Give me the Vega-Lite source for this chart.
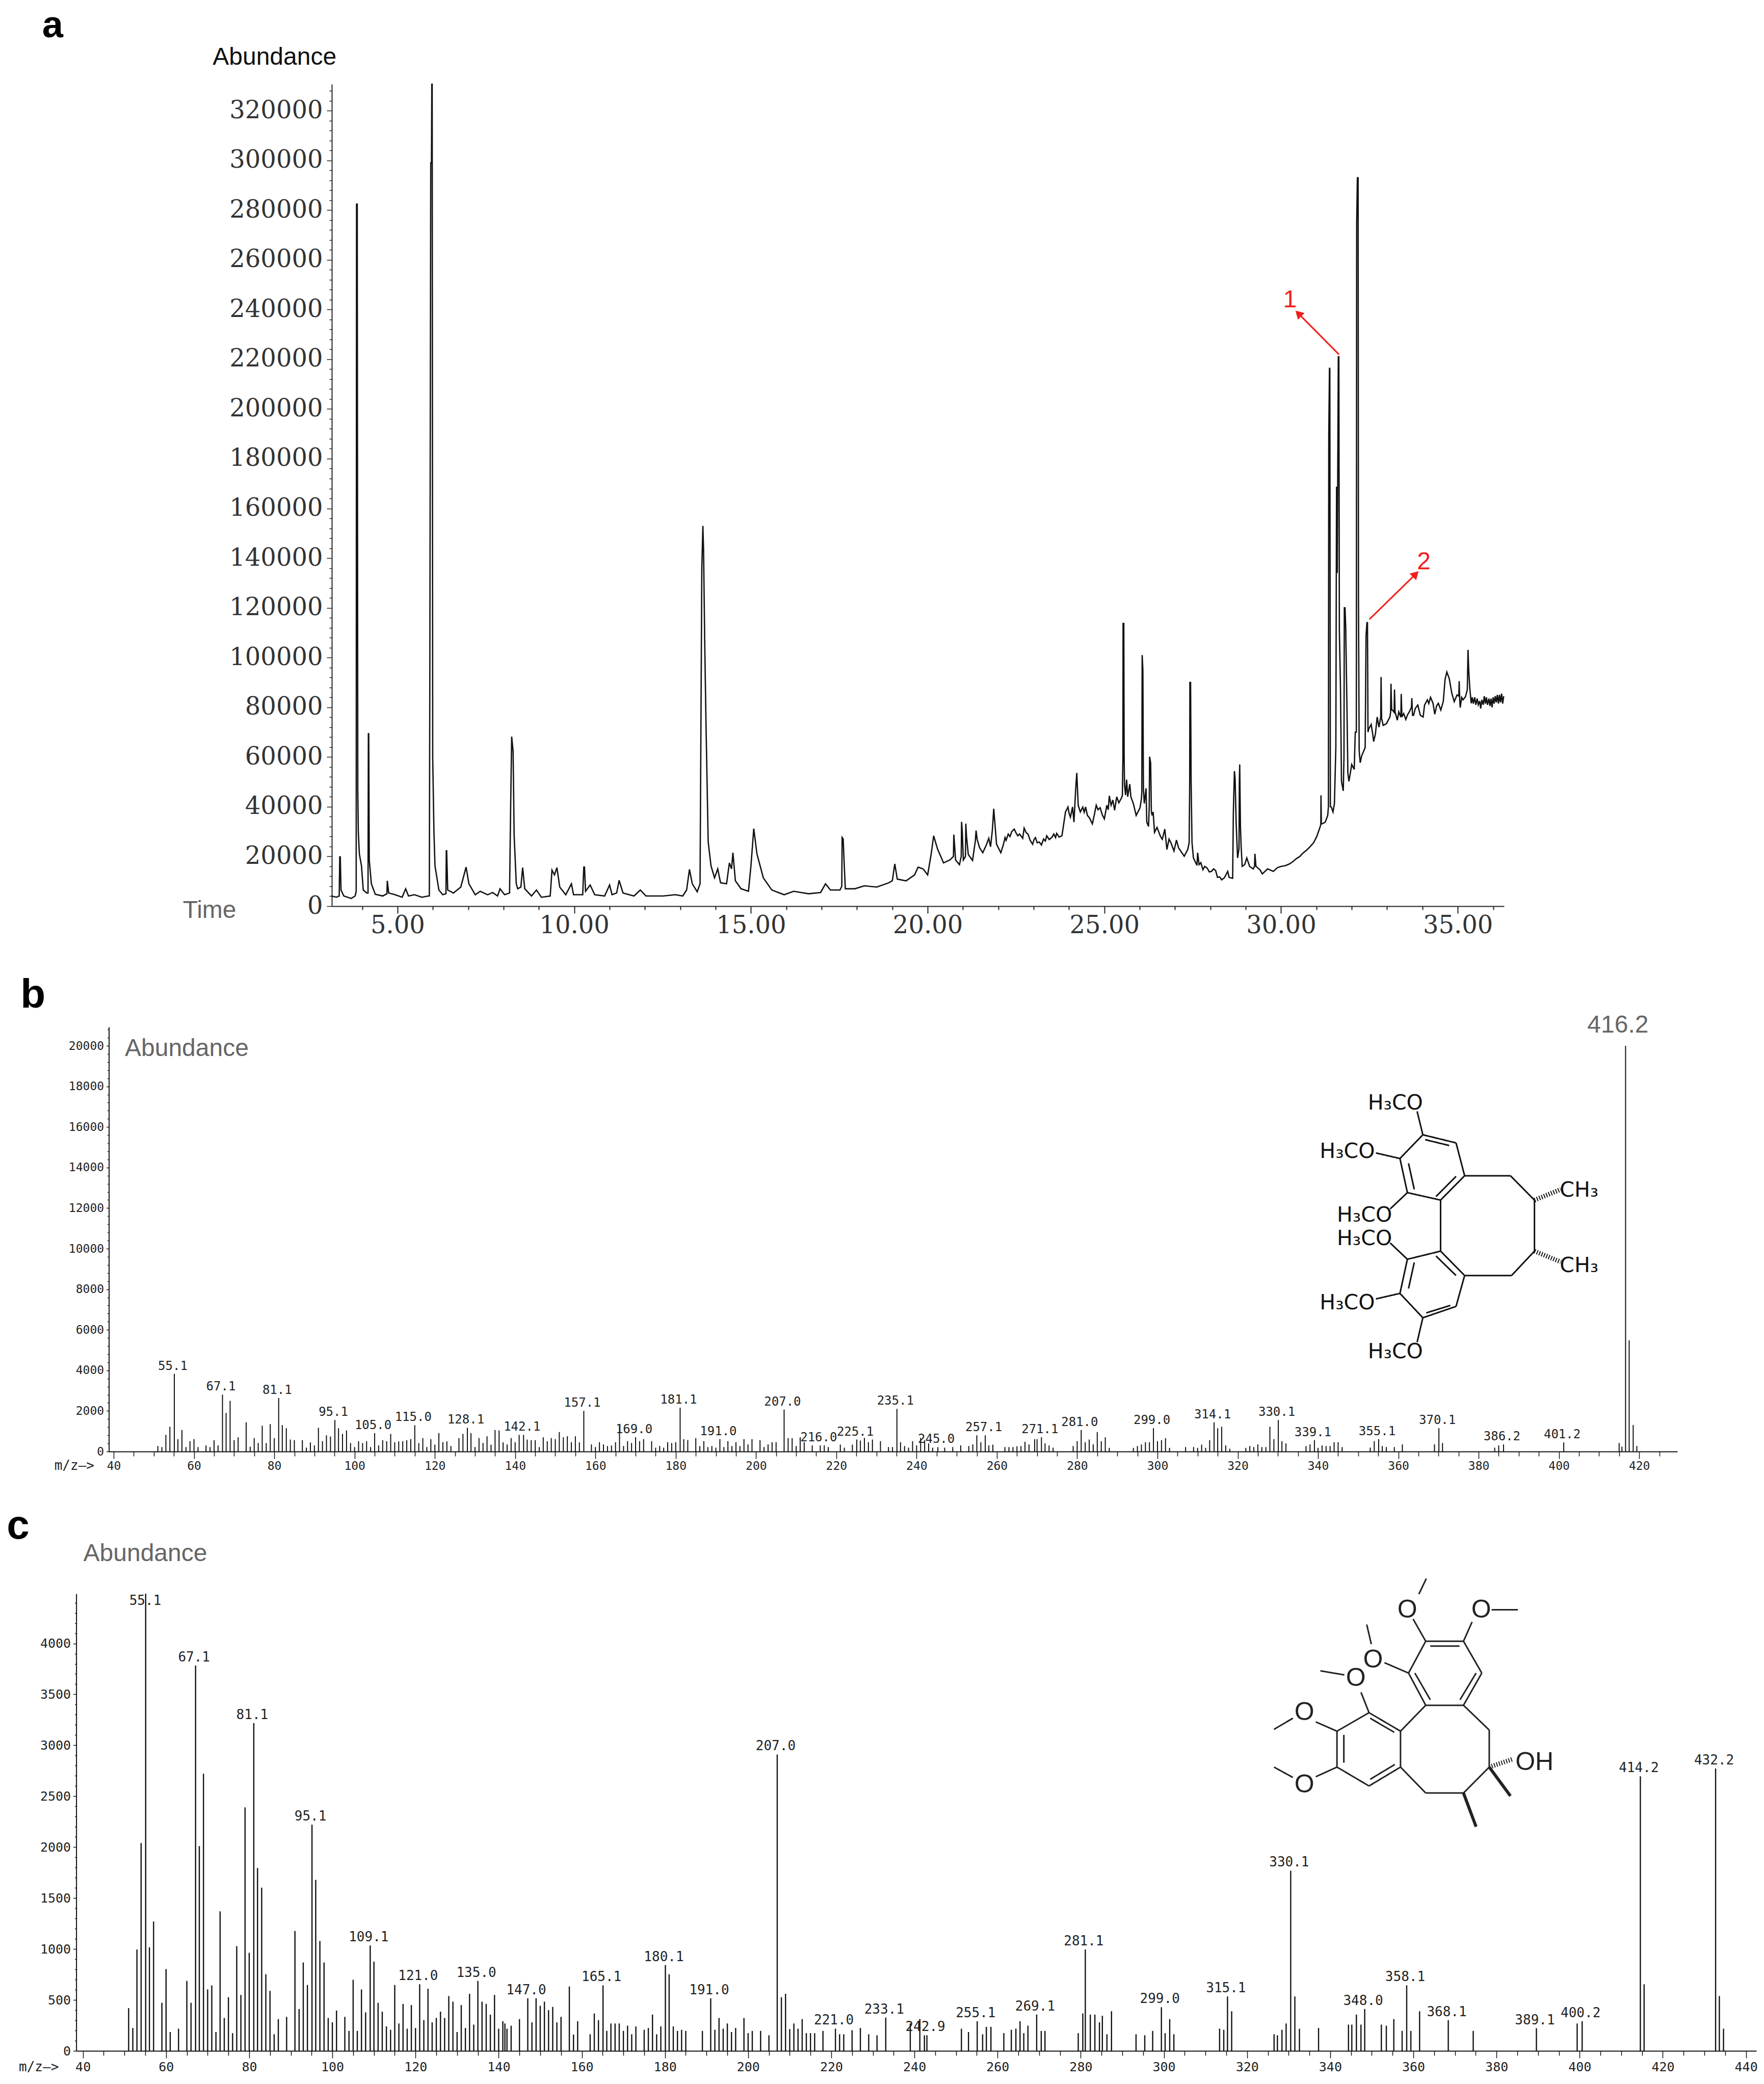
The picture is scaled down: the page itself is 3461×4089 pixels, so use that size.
{"$schema":"https://vega.github.io/schema/vega-lite/v6.json","background":"white","padding":0,"spacing":0,"bounds":"flush","config":{"view":{"stroke":null},"axis":{"grid":false,"labelLimit":500}},
"vconcat":[
{"width":3461,"height":1850,"resolve":{"scale":{"x":"independent","y":"independent"}},"layer":[
{"data":{"name":"a_trace"},"mark":{"type":"line","color":"#111","strokeWidth":2.6,"clip":false},"encoding":{
"x":{"field":"t","type":"quantitative","scale":{"domain":[3.14,36.31],"range":[651,2951],"nice":false,"zero":false},"axis":{"orient":"bottom","title":null,"offset":-72,"values":[4,5,6,7,8,9,10,11,12,13,14,15,16,17,18,19,20,21,22,23,24,25,26,27,28,29,30,31,32,33,34,35,36],"labelExpr":"datum.value % 5 === 0 ? format(datum.value,'.2f') : ''","tickSize":{"condition":{"test":"datum.value % 5 === 0","value":14},"value":7},"labelFont":"DejaVu Serif","labelFontSize":48,"labelColor":"#333","labelPadding":0,"domainColor":"#222","domainWidth":2,"tickColor":"#222","tickWidth":2,"labelOverlap":false,"labelBound":false,"labelFlush":false,"labelLimit":500}},
"y":{"field":"abundance","type":"quantitative","scale":{"domain":[0,330670],"range":[1778,165],"nice":false,"zero":false},"axis":{"orient":"left","title":null,"offset":-651,"values":[0,4000,8000,12000,16000,20000,24000,28000,32000,36000,40000,44000,48000,52000,56000,60000,64000,68000,72000,76000,80000,84000,88000,92000,96000,100000,104000,108000,112000,116000,120000,124000,128000,132000,136000,140000,144000,148000,152000,156000,160000,164000,168000,172000,176000,180000,184000,188000,192000,196000,200000,204000,208000,212000,216000,220000,224000,228000,232000,236000,240000,244000,248000,252000,256000,260000,264000,268000,272000,276000,280000,284000,288000,292000,296000,300000,304000,308000,312000,316000,320000,324000,328000],"labelExpr":"datum.value % 20000 === 0 ? datum.value : ''","tickSize":{"condition":{"test":"datum.value % 20000 === 0","value":10},"value":5},"labelFont":"DejaVu Serif","labelFontSize":48,"labelColor":"#333","labelPadding":8,"domainColor":"#222","domainWidth":2,"tickColor":"#222","tickWidth":1.5,"labelOverlap":false,"labelBound":false,"labelLimit":500}}}},
{"data":{"name":"a_text"},"mark":{"type":"text","font":"Liberation Sans","fontSize":48,"baseline":"middle"},"encoding":{
"x":{"field":"t","type":"quantitative","scale":{"domain":[3.14,36.31],"range":[651,2951],"nice":false,"zero":false},"axis":null},
"y":{"field":"abundance","type":"quantitative","scale":{"domain":[0,330670],"range":[1778,165],"nice":false,"zero":false},"axis":null},
"text":{"field":"text"},
"color":{"field":"kind","type":"nominal","scale":{"domain":["title","time","marker"],"range":["#111111","#666666","#f0201c"]},"legend":null}}},
{"data":{"name":"a_letter"},"mark":{"type":"text","font":"Liberation Sans","fontWeight":"bold","fontSize":74,"baseline":"middle","color":"#000"},"encoding":{
"x":{"field":"t","type":"quantitative","scale":{"domain":[3.14,36.31],"range":[651,2951],"nice":false,"zero":false},"axis":null},
"y":{"field":"abundance","type":"quantitative","scale":{"domain":[0,330670],"range":[1778,165],"nice":false,"zero":false},"axis":null},
"text":{"field":"text"}}},
{"data":{"name":"a_arrows"},"mark":{"type":"rule","color":"#f0201c","strokeWidth":3},"encoding":{
"x":{"field":"t","type":"quantitative","scale":{"domain":[3.14,36.31],"range":[651,2951],"nice":false,"zero":false},"axis":null},
"x2":{"field":"t2"},
"y":{"field":"abundance","type":"quantitative","scale":{"domain":[0,330670],"range":[1778,165],"nice":false,"zero":false},"axis":null},
"y2":{"field":"abundance2"}}},
{"data":{"name":"a_arrows"},"mark":{"type":"point","shape":"triangle-up","filled":true,"color":"#f0201c","size":340,"opacity":1},"encoding":{
"x":{"field":"t2","type":"quantitative","scale":{"domain":[3.14,36.31],"range":[651,2951],"nice":false,"zero":false},"axis":null},
"y":{"field":"abundance2","type":"quantitative","scale":{"domain":[0,330670],"range":[1778,165],"nice":false,"zero":false},"axis":null},
"angle":{"field":"heading","type":"quantitative","scale":null}}}
]},
{"width":3461,"height":1100,"resolve":{"scale":{"x":"independent","y":"independent"}},"layer":[
{"data":{"name":"b_stems"},"mark":{"type":"rule","color":"#111","strokeWidth":2},"encoding":{
"x":{"field":"mz","type":"quantitative","scale":{"domain":[38.8,429.5],"range":[213.6,3291],"nice":false,"zero":false},"axis":{"orient":"bottom","title":null,"offset":-102,"values":[40,45,50,55,60,65,70,75,80,85,90,95,100,105,110,115,120,125,130,135,140,145,150,155,160,165,170,175,180,185,190,195,200,205,210,215,220,225,230,235,240,245,250,255,260,265,270,275,280,285,290,295,300,305,310,315,320,325,330,335,340,345,350,355,360,365,370,375,380,385,390,395,400,405,410,415,420,425],"labelExpr":"datum.value % 20 === 0 ? datum.value : ''","tickSize":{"condition":{"test":"datum.value % 20 === 0","value":14},"value":9},"labelFont":"DejaVu Sans Mono","labelFontSize":23,"labelColor":"#222","labelPadding":3,"domainColor":"#111","domainWidth":2,"tickColor":"#111","tickWidth":1.5,"labelOverlap":false,"labelBound":false,"labelFlush":false}},
"y":{"field":"abundance","type":"quantitative","scale":{"domain":[0,20930],"range":[998,165],"nice":false,"zero":false},"axis":{"orient":"left","title":null,"offset":-213.6,"values":[0,400,800,1200,1600,2000,2400,2800,3200,3600,4000,4400,4800,5200,5600,6000,6400,6800,7200,7600,8000,8400,8800,9200,9600,10000,10400,10800,11200,11600,12000,12400,12800,13200,13600,14000,14400,14800,15200,15600,16000,16400,16800,17200,17600,18000,18400,18800,19200,19600,20000,20400,20800],"labelExpr":"datum.value % 2000 === 0 ? datum.value : ''","tickSize":{"condition":{"test":"datum.value % 2000 === 0","value":5},"value":3},"labelFont":"DejaVu Sans Mono","labelFontSize":23,"labelColor":"#222","labelPadding":5,"domainColor":"#111","domainWidth":2,"tickColor":"#111","tickWidth":1.5,"labelOverlap":false,"labelBound":false}},
"y2":{"datum":0}}},
{"data":{"name":"b_stems"},"transform":[{"filter":"datum.label"}],"mark":{"type":"text","font":"DejaVu Sans Mono","fontSize":24,"baseline":"bottom","dy":-3,"dx":-3,"color":"#222"},"encoding":{
"x":{"field":"mz","type":"quantitative","scale":{"domain":[38.8,429.5],"range":[213.6,3291],"nice":false,"zero":false},"axis":null},
"y":{"field":"abundance","type":"quantitative","scale":{"domain":[0,20930],"range":[998,165],"nice":false,"zero":false},"axis":null},
"text":{"field":"label"}}},
{"data":{"name":"b_text"},"mark":{"type":"text","font":"Liberation Sans","fontSize":48,"baseline":"middle","color":"#666"},"encoding":{
"x":{"field":"mz","type":"quantitative","scale":{"domain":[38.8,429.5],"range":[213.6,3291],"nice":false,"zero":false},"axis":null},
"y":{"field":"abundance","type":"quantitative","scale":{"domain":[0,20930],"range":[998,165],"nice":false,"zero":false},"axis":null},
"text":{"field":"text"}}},
{"data":{"values":[{"mz":30.2,"abundance":-700,"text":"m/z—>"}]},"mark":{"type":"text","font":"DejaVu Sans Mono","fontSize":26,"baseline":"middle","color":"#222"},"encoding":{
"x":{"field":"mz","type":"quantitative","scale":{"domain":[38.8,429.5],"range":[213.6,3291],"nice":false,"zero":false},"axis":null},
"y":{"field":"abundance","type":"quantitative","scale":{"domain":[0,20930],"range":[998,165],"nice":false,"zero":false},"axis":null},
"text":{"field":"text"}}},
{"data":{"values":[{"mz":19.9,"abundance":22500,"text":"b"}]},"mark":{"type":"text","font":"Liberation Sans","fontWeight":"bold","fontSize":80,"baseline":"middle","color":"#000"},"encoding":{
"x":{"field":"mz","type":"quantitative","scale":{"domain":[38.8,429.5],"range":[213.6,3291],"nice":false,"zero":false},"axis":null},
"y":{"field":"abundance","type":"quantitative","scale":{"domain":[0,20930],"range":[998,165],"nice":false,"zero":false},"axis":null},
"text":{"field":"text"}}},
{"data":{"name":"b_bonds"},"mark":{"type":"rule","color":"#111"},"encoding":{
"x":{"field":"sx","type":"quantitative","scale":{"domain":[0,1568],"range":[1700,3461],"nice":false,"zero":false},"axis":null},"x2":{"field":"sx2"},
"y":{"field":"sy","type":"quantitative","scale":{"domain":[0,1568],"range":[50,1050],"nice":false,"zero":false},"axis":null},"y2":{"field":"sy2"},
"strokeWidth":{"field":"kind","type":"nominal","scale":{"domain":["bond","wedge","hash"],"range":[3,9,5]},"legend":null},
"strokeDash":{"field":"kind","type":"nominal","scale":{"domain":["bond","wedge","hash"],"range":[[1,0],[1,0],[2,3]]},"legend":null}}},
{"data":{"name":"b_atoms"},"mark":{"type":"text","font":"DejaVu Sans","fontSize":41,"baseline":"middle","color":"#111"},"encoding":{
"x":{"field":"sx","type":"quantitative","scale":{"domain":[0,1568],"range":[1700,3461],"nice":false,"zero":false},"axis":null},
"y":{"field":"sy","type":"quantitative","scale":{"domain":[0,1568],"range":[50,1050],"nice":false,"zero":false},"axis":null},
"text":{"field":"text"}}}
]},
{"width":3461,"height":1139,"resolve":{"scale":{"x":"independent","y":"independent"}},"layer":[
{"data":{"name":"c_stems"},"mark":{"type":"rule","color":"#111","strokeWidth":2.4},"encoding":{
"x":{"field":"mz","type":"quantitative","scale":{"domain":[38.4,442.5],"range":[149.6,3446],"nice":false,"zero":false},"axis":{"orient":"bottom","title":null,"offset":-65,"values":[40,45,50,55,60,65,70,75,80,85,90,95,100,105,110,115,120,125,130,135,140,145,150,155,160,165,170,175,180,185,190,195,200,205,210,215,220,225,230,235,240,245,250,255,260,265,270,275,280,285,290,295,300,305,310,315,320,325,330,335,340,345,350,355,360,365,370,375,380,385,390,395,400,405,410,415,420,425,430,435,440],"labelExpr":"datum.value % 20 === 0 ? datum.value : ''","tickSize":{"condition":{"test":"datum.value % 20 === 0","value":14},"value":9},"labelFont":"DejaVu Sans Mono","labelFontSize":25,"labelColor":"#222","labelPadding":5,"domainColor":"#111","domainWidth":2,"tickColor":"#111","tickWidth":1.5,"labelOverlap":false,"labelBound":false,"labelFlush":false}},
"y":{"field":"abundance","type":"quantitative","scale":{"domain":[0,4488],"range":[1074,177],"nice":false,"zero":false},"axis":{"orient":"left","title":null,"offset":-149.6,"values":[0,100,200,300,400,500,600,700,800,900,1000,1100,1200,1300,1400,1500,1600,1700,1800,1900,2000,2100,2200,2300,2400,2500,2600,2700,2800,2900,3000,3100,3200,3300,3400,3500,3600,3700,3800,3900,4000,4100,4200,4300,4400],"labelExpr":"datum.value % 500 === 0 ? datum.value : ''","tickSize":{"condition":{"test":"datum.value % 500 === 0","value":6},"value":3},"labelFont":"DejaVu Sans Mono","labelFontSize":25,"labelColor":"#222","labelPadding":5,"domainColor":"#111","domainWidth":2,"tickColor":"#111","tickWidth":1.5,"labelOverlap":false,"labelBound":false}},
"y2":{"datum":0}}},
{"data":{"name":"c_stems"},"transform":[{"filter":"datum.label"}],"mark":{"type":"text","font":"DejaVu Sans Mono","fontSize":26,"baseline":"bottom","dy":-3,"dx":-3,"color":"#222"},"encoding":{
"x":{"field":"mz","type":"quantitative","scale":{"domain":[38.4,442.5],"range":[149.6,3446],"nice":false,"zero":false},"axis":null},
"y":{"field":"abundance","type":"quantitative","scale":{"domain":[0,4488],"range":[1074,177],"nice":false,"zero":false},"axis":null},
"text":{"field":"label"}}},
{"data":{"values":[{"mz":55,"abundance":4417,"text":"55.1"}]},"mark":{"type":"text","font":"DejaVu Sans Mono","fontSize":26,"baseline":"middle","color":"#222"},"encoding":{
"x":{"field":"mz","type":"quantitative","scale":{"domain":[38.4,442.5],"range":[149.6,3446],"nice":false,"zero":false},"axis":null},
"y":{"field":"abundance","type":"quantitative","scale":{"domain":[0,4488],"range":[1074,177],"nice":false,"zero":false},"axis":null},
"text":{"field":"text"}}},
{"data":{"values":[{"mz":55,"abundance":4880,"text":"Abundance"}]},"mark":{"type":"text","font":"Liberation Sans","fontSize":48,"baseline":"middle","color":"#666"},"encoding":{
"x":{"field":"mz","type":"quantitative","scale":{"domain":[38.4,442.5],"range":[149.6,3446],"nice":false,"zero":false},"axis":null},
"y":{"field":"abundance","type":"quantitative","scale":{"domain":[0,4488],"range":[1074,177],"nice":false,"zero":false},"axis":null},
"text":{"field":"text"}}},
{"data":{"values":[{"mz":29.4,"abundance":-158,"text":"m/z—>"}]},"mark":{"type":"text","font":"DejaVu Sans Mono","fontSize":26,"baseline":"middle","color":"#222"},"encoding":{
"x":{"field":"mz","type":"quantitative","scale":{"domain":[38.4,442.5],"range":[149.6,3446],"nice":false,"zero":false},"axis":null},
"y":{"field":"abundance","type":"quantitative","scale":{"domain":[0,4488],"range":[1074,177],"nice":false,"zero":false},"axis":null},
"text":{"field":"text"}}},
{"data":{"values":[{"mz":24.4,"abundance":5150,"text":"c"}]},"mark":{"type":"text","font":"Liberation Sans","fontWeight":"bold","fontSize":80,"baseline":"middle","color":"#000"},"encoding":{
"x":{"field":"mz","type":"quantitative","scale":{"domain":[38.4,442.5],"range":[149.6,3446],"nice":false,"zero":false},"axis":null},
"y":{"field":"abundance","type":"quantitative","scale":{"domain":[0,4488],"range":[1074,177],"nice":false,"zero":false},"axis":null},
"text":{"field":"text"}}},
{"data":{"name":"c_bonds"},"mark":{"type":"rule","color":"#222"},"encoding":{
"x":{"field":"sx","type":"quantitative","scale":{"domain":[0,1568],"range":[1700,3461],"nice":false,"zero":false},"axis":null},"x2":{"field":"sx2"},
"y":{"field":"sy","type":"quantitative","scale":{"domain":[0,1568],"range":[0,1139],"nice":false,"zero":false},"axis":null},"y2":{"field":"sy2"},
"strokeWidth":{"field":"kind","type":"nominal","scale":{"domain":["bond","wedge","hash"],"range":[3,10,6]},"legend":null},
"strokeDash":{"field":"kind","type":"nominal","scale":{"domain":["bond","wedge","hash"],"range":[[1,0],[1,0],[2,3]]},"legend":null}}},
{"data":{"name":"c_atoms"},"mark":{"type":"text","font":"Liberation Sans","fontSize":50,"baseline":"middle","color":"#222"},"encoding":{
"x":{"field":"sx","type":"quantitative","scale":{"domain":[0,1568],"range":[1700,3461],"nice":false,"zero":false},"axis":null},
"y":{"field":"sy","type":"quantitative","scale":{"domain":[0,1568],"range":[0,1139],"nice":false,"zero":false},"axis":null},
"text":{"field":"text"}}}
]}
],
"datasets":{
"a_letter":[{"t":-4.76,"abundance":354000,"text":"a"}],
"a_text":[{"t":1.52,"abundance":341300,"text":"Abundance","kind":"title"},{"t":-0.32,"abundance":-1845,"text":"Time","kind":"time"},{"t":30.25,"abundance":243700,"text":"1","kind":"marker"},{"t":34.04,"abundance":138400,"text":"2","kind":"marker"}],
"a_arrows":[{"t":31.64,"abundance":221900,"t2":30.49,"abundance2":238400,"heading":-45},{"t":32.5,"abundance":115400,"t2":33.81,"abundance2":133600,"heading":45}],
"a_trace":[
{"t":3.13,"abundance":4100},{"t":3.27,"abundance":3600},{"t":3.35,"abundance":4100},{"t":3.365,"abundance":19800},{"t":3.38,"abundance":19800},{"t":3.4,"abundance":6500},{"t":3.48,"abundance":4100},{"t":3.69,"abundance":3100},{"t":3.8,"abundance":4100},{"t":3.83,"abundance":6000},{"t":3.84,"abundance":282400},{"t":3.86,"abundance":282400},{"t":3.875,"abundance":46500},{"t":3.89,"abundance":30000},{"t":3.92,"abundance":21000},{"t":3.98,"abundance":16200},{"t":4.03,"abundance":6500},{"t":4.13,"abundance":5300},{"t":4.165,"abundance":5300},{"t":4.175,"abundance":69400},{"t":4.185,"abundance":69400},{"t":4.2,"abundance":18600},{"t":4.26,"abundance":9000},{"t":4.37,"abundance":4800},{"t":4.58,"abundance":4100},{"t":4.7,"abundance":5000},{"t":4.71,"abundance":10200},{"t":4.75,"abundance":5300},{"t":4.93,"abundance":4600},{"t":5.13,"abundance":3600},{"t":5.23,"abundance":7000},{"t":5.31,"abundance":4100},{"t":5.48,"abundance":4600},{"t":5.69,"abundance":3600},{"t":5.87,"abundance":4100},{"t":5.9,"abundance":4100},{"t":5.915,"abundance":102000},{"t":5.94,"abundance":299000},{"t":5.96,"abundance":299000},{"t":5.97,"abundance":330600},{"t":5.98,"abundance":330600},{"t":5.995,"abundance":60000},{"t":6.03,"abundance":30000},{"t":6.06,"abundance":16200},{"t":6.17,"abundance":6500},{"t":6.28,"abundance":4600},{"t":6.37,"abundance":5000},{"t":6.38,"abundance":22300},{"t":6.39,"abundance":22300},{"t":6.42,"abundance":6500},{"t":6.58,"abundance":5300},{"t":6.79,"abundance":7700},{"t":6.94,"abundance":15700},{"t":7.02,"abundance":9000},{"t":7.2,"abundance":4600},{"t":7.34,"abundance":6000},{"t":7.55,"abundance":4600},{"t":7.69,"abundance":5500},{"t":7.83,"abundance":4100},{"t":7.9,"abundance":7000},{"t":8.03,"abundance":4600},{"t":8.17,"abundance":5300},{"t":8.2,"abundance":39200},{"t":8.23,"abundance":68200},{"t":8.27,"abundance":62200},{"t":8.3,"abundance":28300},{"t":8.36,"abundance":9000},{"t":8.4,"abundance":7000},{"t":8.49,"abundance":7700},{"t":8.54,"abundance":15500},{"t":8.6,"abundance":7000},{"t":8.79,"abundance":4100},{"t":8.93,"abundance":6500},{"t":9.07,"abundance":3600},{"t":9.32,"abundance":4100},{"t":9.37,"abundance":14500},{"t":9.44,"abundance":12600},{"t":9.51,"abundance":15500},{"t":9.59,"abundance":7700},{"t":9.76,"abundance":4600},{"t":9.92,"abundance":9000},{"t":9.98,"abundance":4600},{"t":10.24,"abundance":4600},{"t":10.27,"abundance":15700},{"t":10.29,"abundance":15700},{"t":10.32,"abundance":6000},{"t":10.45,"abundance":8500},{"t":10.58,"abundance":4600},{"t":10.86,"abundance":4100},{"t":11.0,"abundance":8500},{"t":11.07,"abundance":4600},{"t":11.2,"abundance":5300},{"t":11.27,"abundance":10400},{"t":11.38,"abundance":5300},{"t":11.69,"abundance":4100},{"t":11.87,"abundance":6500},{"t":12.03,"abundance":4100},{"t":12.52,"abundance":4100},{"t":12.86,"abundance":4600},{"t":13.07,"abundance":4100},{"t":13.18,"abundance":6500},{"t":13.26,"abundance":14800},{"t":13.34,"abundance":9000},{"t":13.48,"abundance":5800},{"t":13.56,"abundance":9000},{"t":13.58,"abundance":59800},{"t":13.61,"abundance":136000},{"t":13.64,"abundance":153000},{"t":13.66,"abundance":143000},{"t":13.69,"abundance":108000},{"t":13.73,"abundance":71900},{"t":13.79,"abundance":25900},{"t":13.87,"abundance":16200},{"t":13.97,"abundance":11400},{"t":14.06,"abundance":15000},{"t":14.14,"abundance":9400},{"t":14.31,"abundance":9000},{"t":14.39,"abundance":17400},{"t":14.45,"abundance":15000},{"t":14.49,"abundance":21500},{"t":14.56,"abundance":10200},{"t":14.72,"abundance":7000},{"t":14.93,"abundance":6000},{"t":15.0,"abundance":16200},{"t":15.08,"abundance":31200},{"t":15.17,"abundance":21000},{"t":15.35,"abundance":11400},{"t":15.59,"abundance":6500},{"t":15.94,"abundance":4600},{"t":16.21,"abundance":6000},{"t":16.63,"abundance":5000},{"t":16.97,"abundance":5500},{"t":17.11,"abundance":9000},{"t":17.25,"abundance":6500},{"t":17.52,"abundance":6500},{"t":17.57,"abundance":8000},{"t":17.58,"abundance":27600},{"t":17.61,"abundance":27000},{"t":17.63,"abundance":19800},{"t":17.67,"abundance":7000},{"t":17.94,"abundance":7000},{"t":18.21,"abundance":8200},{"t":18.56,"abundance":7700},{"t":18.9,"abundance":9400},{"t":19.0,"abundance":10200},{"t":19.07,"abundance":17000},{"t":19.14,"abundance":10900},{"t":19.39,"abundance":10200},{"t":19.63,"abundance":12600},{"t":19.73,"abundance":15700},{"t":19.87,"abundance":15000},{"t":20.0,"abundance":12600},{"t":20.1,"abundance":21000},{"t":20.17,"abundance":28300},{"t":20.28,"abundance":23000},{"t":20.45,"abundance":17400},{"t":20.63,"abundance":18600},{"t":20.73,"abundance":20000},{"t":20.74,"abundance":28800},{"t":20.76,"abundance":25000},{"t":20.79,"abundance":18600},{"t":20.9,"abundance":16700},{"t":20.95,"abundance":20000},{"t":20.96,"abundance":33900},{"t":20.98,"abundance":30000},{"t":21.01,"abundance":18600},{"t":21.07,"abundance":20000},{"t":21.08,"abundance":33200},{"t":21.1,"abundance":28000},{"t":21.15,"abundance":20800},{"t":21.27,"abundance":18400},{"t":21.35,"abundance":26300},{"t":21.37,"abundance":30400},{"t":21.4,"abundance":26900},{"t":21.47,"abundance":23500},{"t":21.56,"abundance":21500},{"t":21.66,"abundance":24600},{"t":21.73,"abundance":27300},{"t":21.78,"abundance":23900},{"t":21.83,"abundance":30400},{"t":21.87,"abundance":39200},{"t":21.9,"abundance":33800},{"t":21.95,"abundance":24900},{"t":22.07,"abundance":21500},{"t":22.14,"abundance":24600},{"t":22.19,"abundance":27600},{"t":22.22,"abundance":26500},{"t":22.28,"abundance":29000},{"t":22.33,"abundance":28000},{"t":22.38,"abundance":30000},{"t":22.45,"abundance":31000},{"t":22.5,"abundance":29500},{"t":22.55,"abundance":28300},{"t":22.6,"abundance":29000},{"t":22.69,"abundance":27300},{"t":22.73,"abundance":31400},{"t":22.79,"abundance":29500},{"t":22.84,"abundance":29000},{"t":22.9,"abundance":26500},{"t":22.97,"abundance":24900},{"t":23.01,"abundance":26800},{"t":23.05,"abundance":27600},{"t":23.1,"abundance":25500},{"t":23.16,"abundance":25800},{"t":23.22,"abundance":24600},{"t":23.28,"abundance":27000},{"t":23.33,"abundance":26200},{"t":23.37,"abundance":28300},{"t":23.44,"abundance":26800},{"t":23.51,"abundance":27600},{"t":23.57,"abundance":29000},{"t":23.62,"abundance":27600},{"t":23.65,"abundance":29300},{"t":23.72,"abundance":27800},{"t":23.8,"abundance":28300},{"t":23.85,"abundance":33100},{"t":23.9,"abundance":37900},{"t":23.97,"abundance":39900},{"t":24.0,"abundance":37500},{"t":24.04,"abundance":35800},{"t":24.1,"abundance":39900},{"t":24.14,"abundance":33800},{"t":24.19,"abundance":47400},{"t":24.22,"abundance":53600},{"t":24.26,"abundance":40600},{"t":24.32,"abundance":37900},{"t":24.39,"abundance":39800},{"t":24.43,"abundance":37800},{"t":24.47,"abundance":39900},{"t":24.52,"abundance":36500},{"t":24.58,"abundance":35500},{"t":24.66,"abundance":33100},{"t":24.72,"abundance":37000},{"t":24.77,"abundance":40600},{"t":24.82,"abundance":38800},{"t":24.88,"abundance":39600},{"t":24.94,"abundance":36800},{"t":25.0,"abundance":35100},{"t":25.07,"abundance":40600},{"t":25.11,"abundance":38800},{"t":25.14,"abundance":44400},{"t":25.19,"abundance":40600},{"t":25.24,"abundance":42700},{"t":25.29,"abundance":38600},{"t":25.35,"abundance":44000},{"t":25.41,"abundance":41600},{"t":25.48,"abundance":43400},{"t":25.51,"abundance":44500},{"t":25.525,"abundance":60000},{"t":25.53,"abundance":113700},{"t":25.55,"abundance":113700},{"t":25.56,"abundance":60000},{"t":25.57,"abundance":48800},{"t":25.6,"abundance":44700},{"t":25.63,"abundance":50900},{"t":25.66,"abundance":44000},{"t":25.72,"abundance":49100},{"t":25.75,"abundance":44000},{"t":25.82,"abundance":41300},{"t":25.9,"abundance":36500},{"t":26.01,"abundance":39600},{"t":26.05,"abundance":43300},{"t":26.06,"abundance":46000},{"t":26.07,"abundance":101000},{"t":26.09,"abundance":95000},{"t":26.105,"abundance":47000},{"t":26.13,"abundance":41300},{"t":26.18,"abundance":47400},{"t":26.2,"abundance":33800},{"t":26.25,"abundance":32100},{"t":26.27,"abundance":40000},{"t":26.28,"abundance":60100},{"t":26.31,"abundance":57700},{"t":26.33,"abundance":38000},{"t":26.35,"abundance":36500},{"t":26.38,"abundance":37900},{"t":26.42,"abundance":29700},{"t":26.49,"abundance":31700},{"t":26.59,"abundance":28000},{"t":26.64,"abundance":26900},{"t":26.71,"abundance":31000},{"t":26.77,"abundance":22800},{"t":26.83,"abundance":27000},{"t":26.88,"abundance":25600},{"t":26.97,"abundance":22200},{"t":27.04,"abundance":26600},{"t":27.1,"abundance":23500},{"t":27.16,"abundance":22200},{"t":27.26,"abundance":20100},{"t":27.36,"abundance":22800},{"t":27.4,"abundance":25600},{"t":27.415,"abundance":50000},{"t":27.42,"abundance":90000},{"t":27.44,"abundance":90000},{"t":27.455,"abundance":50000},{"t":27.48,"abundance":25600},{"t":27.52,"abundance":19400},{"t":27.62,"abundance":16400},{"t":27.64,"abundance":21500},{"t":27.68,"abundance":16700},{"t":27.73,"abundance":17500},{"t":27.79,"abundance":14700},{"t":27.84,"abundance":16000},{"t":27.91,"abundance":15300},{"t":27.97,"abundance":13800},{"t":28.03,"abundance":14000},{"t":28.09,"abundance":15000},{"t":28.15,"abundance":14300},{"t":28.2,"abundance":11600},{"t":28.26,"abundance":11800},{"t":28.32,"abundance":10600},{"t":28.4,"abundance":11500},{"t":28.49,"abundance":14000},{"t":28.53,"abundance":11600},{"t":28.63,"abundance":11200},{"t":28.65,"abundance":37900},{"t":28.68,"abundance":54300},{"t":28.7,"abundance":51200},{"t":28.73,"abundance":33100},{"t":28.77,"abundance":19400},{"t":28.81,"abundance":23200},{"t":28.82,"abundance":50000},{"t":28.83,"abundance":57000},{"t":28.85,"abundance":32400},{"t":28.87,"abundance":24200},{"t":28.9,"abundance":16000},{"t":28.97,"abundance":16700},{"t":29.03,"abundance":19400},{"t":29.11,"abundance":16000},{"t":29.21,"abundance":15000},{"t":29.25,"abundance":16000},{"t":29.26,"abundance":21100},{"t":29.29,"abundance":16000},{"t":29.4,"abundance":14700},{"t":29.47,"abundance":13000},{"t":29.62,"abundance":15000},{"t":29.78,"abundance":14000},{"t":29.9,"abundance":15500},{"t":30.0,"abundance":16000},{"t":30.12,"abundance":16300},{"t":30.24,"abundance":17000},{"t":30.34,"abundance":18000},{"t":30.43,"abundance":19100},{"t":30.53,"abundance":20000},{"t":30.63,"abundance":21500},{"t":30.72,"abundance":22500},{"t":30.82,"abundance":23900},{"t":30.92,"abundance":25500},{"t":31.01,"abundance":28000},{"t":31.11,"abundance":32100},{"t":31.125,"abundance":33000},{"t":31.13,"abundance":44600},{"t":31.14,"abundance":33100},{"t":31.16,"abundance":33100},{"t":31.25,"abundance":33800},{"t":31.32,"abundance":36500},{"t":31.34,"abundance":40000},{"t":31.35,"abundance":190000},{"t":31.37,"abundance":216600},{"t":31.38,"abundance":216000},{"t":31.395,"abundance":40000},{"t":31.42,"abundance":39900},{"t":31.47,"abundance":37900},{"t":31.51,"abundance":41300},{"t":31.55,"abundance":63800},{"t":31.57,"abundance":168700},{"t":31.59,"abundance":134000},{"t":31.62,"abundance":221000},{"t":31.635,"abundance":221000},{"t":31.65,"abundance":110600},{"t":31.68,"abundance":88800},{"t":31.71,"abundance":50200},{"t":31.76,"abundance":46400},{"t":31.78,"abundance":60000},{"t":31.79,"abundance":120000},{"t":31.81,"abundance":120000},{"t":31.83,"abundance":111800},{"t":31.865,"abundance":79500},{"t":31.89,"abundance":53600},{"t":31.92,"abundance":50200},{"t":32.0,"abundance":57000},{"t":32.07,"abundance":55000},{"t":32.1,"abundance":70000},{"t":32.13,"abundance":70000},{"t":32.14,"abundance":275000},{"t":32.16,"abundance":293000},{"t":32.18,"abundance":293000},{"t":32.19,"abundance":125000},{"t":32.21,"abundance":62500},{"t":32.24,"abundance":57700},{"t":32.28,"abundance":60400},{"t":32.38,"abundance":63800},{"t":32.405,"abundance":109000},{"t":32.43,"abundance":114000},{"t":32.445,"abundance":114000},{"t":32.46,"abundance":70000},{"t":32.48,"abundance":71300},{"t":32.55,"abundance":73100},{"t":32.6,"abundance":68600},{"t":32.62,"abundance":66200},{"t":32.67,"abundance":69300},{"t":32.72,"abundance":76100},{"t":32.77,"abundance":72000},{"t":32.82,"abundance":76000},{"t":32.83,"abundance":92200},{"t":32.845,"abundance":75500},{"t":32.89,"abundance":72700},{"t":32.98,"abundance":73400},{"t":33.08,"abundance":76100},{"t":33.1,"abundance":78000},{"t":33.11,"abundance":89500},{"t":33.13,"abundance":78900},{"t":33.15,"abundance":78900},{"t":33.2,"abundance":78000},{"t":33.21,"abundance":87100},{"t":33.225,"abundance":78200},{"t":33.29,"abundance":74800},{"t":33.33,"abundance":78200},{"t":33.39,"abundance":76000},{"t":33.4,"abundance":85400},{"t":33.42,"abundance":76100},{"t":33.47,"abundance":77500},{"t":33.53,"abundance":75100},{"t":33.58,"abundance":77000},{"t":33.63,"abundance":78200},{"t":33.69,"abundance":80000},{"t":33.7,"abundance":83700},{"t":33.72,"abundance":76800},{"t":33.75,"abundance":76800},{"t":33.8,"abundance":79600},{"t":33.87,"abundance":80900},{"t":33.94,"abundance":76800},{"t":34.02,"abundance":76100},{"t":34.06,"abundance":80900},{"t":34.14,"abundance":83000},{"t":34.18,"abundance":81500},{"t":34.23,"abundance":84000},{"t":34.3,"abundance":81600},{"t":34.35,"abundance":77200},{"t":34.4,"abundance":80500},{"t":34.45,"abundance":81600},{"t":34.52,"abundance":78900},{"t":34.59,"abundance":82300},{"t":34.64,"abundance":91200},{"t":34.69,"abundance":94200},{"t":34.76,"abundance":91500},{"t":34.83,"abundance":85700},{"t":34.9,"abundance":82300},{"t":34.98,"abundance":85000},{"t":35.03,"abundance":84500},{"t":35.04,"abundance":90500},{"t":35.055,"abundance":83000},{"t":35.07,"abundance":79900},{"t":35.11,"abundance":84000},{"t":35.15,"abundance":83000},{"t":35.22,"abundance":84300},{"t":35.27,"abundance":87100},{"t":35.29,"abundance":103100},{"t":35.31,"abundance":95000},{"t":35.34,"abundance":87800},{"t":35.38,"abundance":81600},{"t":35.41,"abundance":84000},{"t":35.44,"abundance":81500},{"t":35.48,"abundance":84000},{"t":35.51,"abundance":81000},{"t":35.55,"abundance":83500},{"t":35.58,"abundance":81000},{"t":35.62,"abundance":82500},{"t":35.65,"abundance":79500},{"t":35.68,"abundance":83000},{"t":35.72,"abundance":81000},{"t":35.75,"abundance":84500},{"t":35.78,"abundance":81500},{"t":35.81,"abundance":84000},{"t":35.84,"abundance":81000},{"t":35.88,"abundance":83500},{"t":35.91,"abundance":80500},{"t":35.94,"abundance":83500},{"t":35.97,"abundance":80000},{"t":36.0,"abundance":84000},{"t":36.03,"abundance":81500},{"t":36.06,"abundance":84500},{"t":36.09,"abundance":82000},{"t":36.12,"abundance":85000},{"t":36.15,"abundance":81500},{"t":36.18,"abundance":85000},{"t":36.21,"abundance":82000},{"t":36.24,"abundance":85500},{"t":36.27,"abundance":81500},{"t":36.3,"abundance":84500}],
"b_text":[{"mz":58.2,"abundance":19850,"text":"Abundance"},{"mz":414.7,"abundance":21000,"text":"416.2"}],
"b_stems":[{"mz":51,"abundance":270},{"mz":52,"abundance":220},{"mz":53,"abundance":820},{"mz":54,"abundance":1220},{"mz":55.1,"abundance":3830,"label":"55.1"},{"mz":56,"abundance":610},{"mz":57,"abundance":1060},{"mz":58,"abundance":220},{"mz":59,"abundance":510},{"mz":60,"abundance":610},{"mz":61,"abundance":220},{"mz":63,"abundance":300},{"mz":64,"abundance":220},{"mz":65,"abundance":560},{"mz":66,"abundance":300},{"mz":67.1,"abundance":2805,"label":"67.1"},{"mz":68,"abundance":1900},{"mz":69,"abundance":2500},{"mz":70,"abundance":560},{"mz":71,"abundance":700},{"mz":73,"abundance":1440},{"mz":74,"abundance":240},{"mz":75,"abundance":660},{"mz":76,"abundance":420},{"mz":77,"abundance":1270},{"mz":78,"abundance":420},{"mz":79,"abundance":1350},{"mz":80,"abundance":660},{"mz":81.1,"abundance":2640,"label":"81.1"},{"mz":82,"abundance":1300},{"mz":83,"abundance":1150},{"mz":84,"abundance":590},{"mz":85,"abundance":560},{"mz":87,"abundance":560},{"mz":88,"abundance":190},{"mz":89,"abundance":450},{"mz":90,"abundance":300},{"mz":91,"abundance":1170},{"mz":92,"abundance":510},{"mz":93,"abundance":800},{"mz":94,"abundance":740},{"mz":95.1,"abundance":1555,"label":"95.1"},{"mz":96,"abundance":1150},{"mz":97,"abundance":870},{"mz":98,"abundance":1040},{"mz":99,"abundance":420},{"mz":100,"abundance":220},{"mz":101,"abundance":510},{"mz":102,"abundance":420},{"mz":103,"abundance":510},{"mz":104,"abundance":220},{"mz":105,"abundance":910,"label":"105.0"},{"mz":106,"abundance":300},{"mz":107,"abundance":560},{"mz":108,"abundance":510},{"mz":109,"abundance":870},{"mz":110,"abundance":460},{"mz":111,"abundance":500},{"mz":112,"abundance":510},{"mz":113,"abundance":560},{"mz":114,"abundance":610},{"mz":115,"abundance":1300,"label":"115.0"},{"mz":116,"abundance":420},{"mz":117,"abundance":660},{"mz":118,"abundance":220},{"mz":119,"abundance":610},{"mz":120,"abundance":340},{"mz":121,"abundance":910},{"mz":122,"abundance":460},{"mz":123,"abundance":500},{"mz":124,"abundance":270},{"mz":126,"abundance":660},{"mz":127,"abundance":870},{"mz":128.1,"abundance":1170,"label":"128.1"},{"mz":129,"abundance":910},{"mz":130,"abundance":220},{"mz":131,"abundance":660},{"mz":132,"abundance":420},{"mz":133,"abundance":750},{"mz":134,"abundance":340},{"mz":135,"abundance":1060},{"mz":136,"abundance":1040},{"mz":137,"abundance":450},{"mz":138,"abundance":350},{"mz":139,"abundance":660},{"mz":140,"abundance":460},{"mz":141,"abundance":820},{"mz":142.1,"abundance":820,"label":"142.1"},{"mz":143,"abundance":590},{"mz":144,"abundance":560},{"mz":145,"abundance":560},{"mz":146,"abundance":220},{"mz":147,"abundance":700},{"mz":148,"abundance":510},{"mz":149,"abundance":660},{"mz":150,"abundance":610},{"mz":151,"abundance":960},{"mz":152,"abundance":700},{"mz":153,"abundance":750},{"mz":154,"abundance":460},{"mz":155,"abundance":750},{"mz":156,"abundance":450},{"mz":157.1,"abundance":2000,"label":"157.1"},{"mz":159,"abundance":350},{"mz":160,"abundance":220},{"mz":161,"abundance":460},{"mz":162,"abundance":350},{"mz":163,"abundance":270},{"mz":164,"abundance":300},{"mz":165,"abundance":460},{"mz":166,"abundance":1270},{"mz":167,"abundance":270},{"mz":168,"abundance":510},{"mz":169,"abundance":420},{"mz":170,"abundance":700,"label":"169.0"},{"mz":171,"abundance":510},{"mz":172,"abundance":610},{"mz":174,"abundance":510},{"mz":175,"abundance":190},{"mz":176,"abundance":270},{"mz":177,"abundance":190},{"mz":178,"abundance":460},{"mz":179,"abundance":420},{"mz":180,"abundance":460},{"mz":181.1,"abundance":2160,"label":"181.1"},{"mz":182,"abundance":610},{"mz":183,"abundance":560},{"mz":185,"abundance":660},{"mz":186,"abundance":270},{"mz":187,"abundance":510},{"mz":188,"abundance":220},{"mz":189,"abundance":270},{"mz":190,"abundance":190},{"mz":191,"abundance":610,"label":"191.0"},{"mz":192,"abundance":220},{"mz":193,"abundance":510},{"mz":194,"abundance":270},{"mz":195,"abundance":460},{"mz":196,"abundance":270},{"mz":197,"abundance":610},{"mz":198,"abundance":350},{"mz":199,"abundance":610},{"mz":201,"abundance":560},{"mz":202,"abundance":220},{"mz":203,"abundance":350},{"mz":204,"abundance":460},{"mz":205,"abundance":460},{"mz":207,"abundance":2070,"label":"207.0"},{"mz":208,"abundance":660},{"mz":209,"abundance":660},{"mz":210,"abundance":270},{"mz":211,"abundance":700},{"mz":212,"abundance":460},{"mz":214,"abundance":300},{"mz":216,"abundance":300,"label":"216.0"},{"mz":217,"abundance":300},{"mz":218,"abundance":220},{"mz":221,"abundance":340},{"mz":222,"abundance":190},{"mz":224,"abundance":340},{"mz":225.1,"abundance":590,"label":"225.1"},{"mz":226,"abundance":540},{"mz":227,"abundance":670},{"mz":228,"abundance":460},{"mz":229,"abundance":590},{"mz":231,"abundance":510},{"mz":233,"abundance":220},{"mz":234,"abundance":220},{"mz":235.1,"abundance":2100,"label":"235.1"},{"mz":236,"abundance":460},{"mz":237,"abundance":270},{"mz":238,"abundance":190},{"mz":239,"abundance":510},{"mz":240,"abundance":300},{"mz":241,"abundance":670},{"mz":242,"abundance":560},{"mz":243,"abundance":400},{"mz":244,"abundance":190},{"mz":245.3,"abundance":220,"label":"245.0"},{"mz":247,"abundance":190},{"mz":249,"abundance":220},{"mz":251,"abundance":300},{"mz":253,"abundance":270},{"mz":254,"abundance":350},{"mz":255,"abundance":800},{"mz":256,"abundance":460},{"mz":257.1,"abundance":800,"label":"257.1"},{"mz":258,"abundance":300},{"mz":259,"abundance":340},{"mz":262,"abundance":220},{"mz":263,"abundance":220},{"mz":264,"abundance":220},{"mz":265,"abundance":260},{"mz":266,"abundance":270},{"mz":267,"abundance":480},{"mz":268,"abundance":350},{"mz":269.4,"abundance":610},{"mz":270,"abundance":610},{"mz":271.1,"abundance":700,"label":"271.1"},{"mz":272,"abundance":400},{"mz":273,"abundance":300},{"mz":274,"abundance":190},{"mz":279,"abundance":270},{"mz":280,"abundance":510},{"mz":281,"abundance":1060,"label":"281.0"},{"mz":282,"abundance":460},{"mz":283,"abundance":590},{"mz":284,"abundance":350},{"mz":285,"abundance":960},{"mz":286,"abundance":510},{"mz":287,"abundance":700},{"mz":288,"abundance":180},{"mz":294,"abundance":180},{"mz":295,"abundance":270},{"mz":296,"abundance":350},{"mz":297,"abundance":460},{"mz":298,"abundance":460},{"mz":299,"abundance":1150,"label":"299.0"},{"mz":300,"abundance":510},{"mz":301,"abundance":560},{"mz":302,"abundance":660},{"mz":303,"abundance":180},{"mz":307,"abundance":220},{"mz":309,"abundance":220},{"mz":310,"abundance":180},{"mz":311,"abundance":340},{"mz":312,"abundance":180},{"mz":313,"abundance":560},{"mz":314.1,"abundance":1440,"label":"314.1"},{"mz":315,"abundance":1150},{"mz":316,"abundance":1220},{"mz":317,"abundance":300},{"mz":318,"abundance":140},{"mz":322,"abundance":180},{"mz":323,"abundance":270},{"mz":324,"abundance":220},{"mz":325,"abundance":350},{"mz":326,"abundance":220},{"mz":327,"abundance":220},{"mz":328,"abundance":1220},{"mz":329,"abundance":610},{"mz":330.1,"abundance":1555,"label":"330.1"},{"mz":331,"abundance":510},{"mz":332,"abundance":400},{"mz":337,"abundance":270},{"mz":338,"abundance":350},{"mz":339.1,"abundance":560,"label":"339.1"},{"mz":340,"abundance":180},{"mz":341,"abundance":300},{"mz":342,"abundance":270},{"mz":343,"abundance":270},{"mz":344,"abundance":460},{"mz":345,"abundance":460},{"mz":346,"abundance":220},{"mz":353,"abundance":190},{"mz":354,"abundance":510},{"mz":355.1,"abundance":610,"label":"355.1"},{"mz":356,"abundance":270},{"mz":357,"abundance":220},{"mz":359,"abundance":220},{"mz":361,"abundance":350},{"mz":369,"abundance":350},{"mz":370.1,"abundance":1150,"label":"370.1"},{"mz":371,"abundance":420},{"mz":384,"abundance":190},{"mz":385,"abundance":300},{"mz":386.2,"abundance":350,"label":"386.2"},{"mz":401.2,"abundance":450,"label":"401.2"},{"mz":415,"abundance":420},{"mz":415.7,"abundance":240},{"mz":416.6,"abundance":20000},{"mz":417.5,"abundance":5480},{"mz":418.5,"abundance":1310},{"mz":419.4,"abundance":270}],
"c_stems":[{"mz":51,"abundance":420},{"mz":52,"abundance":225},{"mz":53,"abundance":995},{"mz":54,"abundance":2040},{"mz":55.1,"abundance":4488},{"mz":56,"abundance":1017},{"mz":57,"abundance":1270},{"mz":59,"abundance":472},{"mz":60,"abundance":803},{"mz":61,"abundance":185},{"mz":63,"abundance":218},{"mz":65,"abundance":687},{"mz":66,"abundance":472},{"mz":67.1,"abundance":3782,"label":"67.1"},{"mz":68,"abundance":2010},{"mz":69,"abundance":2721},{"mz":70,"abundance":603},{"mz":71,"abundance":643},{"mz":72,"abundance":185},{"mz":73,"abundance":1370},{"mz":74,"abundance":323},{"mz":75,"abundance":527},{"mz":76,"abundance":174},{"mz":77,"abundance":1028},{"mz":78,"abundance":549},{"mz":79,"abundance":2390},{"mz":80,"abundance":963},{"mz":81.1,"abundance":3219,"label":"81.1"},{"mz":82,"abundance":1795},{"mz":83,"abundance":1602},{"mz":84,"abundance":752},{"mz":85,"abundance":589},{"mz":86,"abundance":163},{"mz":87,"abundance":312},{"mz":89,"abundance":334},{"mz":91,"abundance":1177},{"mz":92,"abundance":411},{"mz":93,"abundance":868},{"mz":94,"abundance":647},{"mz":95.1,"abundance":2220,"label":"95.1"},{"mz":96,"abundance":1678},{"mz":97,"abundance":1079},{"mz":98,"abundance":868},{"mz":99,"abundance":323},{"mz":100,"abundance":280},{"mz":101,"abundance":396},{"mz":103,"abundance":334},{"mz":104,"abundance":196},{"mz":105,"abundance":698},{"mz":106,"abundance":196},{"mz":107,"abundance":603},{"mz":108,"abundance":378},{"mz":109.1,"abundance":1035,"label":"109.1"},{"mz":110,"abundance":876},{"mz":111,"abundance":472},{"mz":112,"abundance":385},{"mz":113,"abundance":240},{"mz":114,"abundance":207},{"mz":115,"abundance":647},{"mz":116,"abundance":269},{"mz":117,"abundance":461},{"mz":118,"abundance":218},{"mz":119,"abundance":450},{"mz":120,"abundance":225},{"mz":121,"abundance":654,"label":"121.0"},{"mz":122,"abundance":302},{"mz":123,"abundance":610},{"mz":124,"abundance":280},{"mz":125,"abundance":323},{"mz":126,"abundance":385},{"mz":127,"abundance":323},{"mz":128,"abundance":538},{"mz":129,"abundance":483},{"mz":130,"abundance":185},{"mz":131,"abundance":450},{"mz":132,"abundance":225},{"mz":133,"abundance":560},{"mz":134,"abundance":258},{"mz":135,"abundance":687,"label":"135.0"},{"mz":136,"abundance":483},{"mz":137,"abundance":461},{"mz":138,"abundance":356},{"mz":139,"abundance":549},{"mz":140,"abundance":218},{"mz":141,"abundance":291},{"mz":141.5,"abundance":269},{"mz":142,"abundance":218},{"mz":143,"abundance":247},{"mz":145,"abundance":312},{"mz":147,"abundance":516,"label":"147.0"},{"mz":148,"abundance":280},{"mz":149,"abundance":516},{"mz":150,"abundance":443},{"mz":151,"abundance":483},{"mz":152,"abundance":400},{"mz":153,"abundance":432},{"mz":154,"abundance":280},{"mz":155,"abundance":334},{"mz":157,"abundance":632},{"mz":158,"abundance":160},{"mz":159,"abundance":291},{"mz":162,"abundance":163},{"mz":163,"abundance":367},{"mz":164,"abundance":302},{"mz":165.1,"abundance":643,"label":"165.1"},{"mz":166,"abundance":196},{"mz":167,"abundance":269},{"mz":168,"abundance":269},{"mz":169,"abundance":269},{"mz":170,"abundance":196},{"mz":171,"abundance":247},{"mz":172,"abundance":163},{"mz":173,"abundance":240},{"mz":175,"abundance":207},{"mz":176,"abundance":225},{"mz":177,"abundance":356},{"mz":178,"abundance":163},{"mz":179,"abundance":240},{"mz":180.1,"abundance":843,"label":"180.1"},{"mz":181,"abundance":752},{"mz":182,"abundance":240},{"mz":183,"abundance":196},{"mz":184,"abundance":207},{"mz":185,"abundance":196},{"mz":189,"abundance":196},{"mz":191,"abundance":516,"label":"191.0"},{"mz":192,"abundance":207},{"mz":193,"abundance":323},{"mz":194,"abundance":218},{"mz":195,"abundance":269},{"mz":196,"abundance":185},{"mz":197,"abundance":225},{"mz":199,"abundance":323},{"mz":200,"abundance":174},{"mz":201,"abundance":196},{"mz":203,"abundance":196},{"mz":205,"abundance":153},{"mz":207,"abundance":2910,"label":"207.0"},{"mz":208,"abundance":527},{"mz":209,"abundance":560},{"mz":210,"abundance":214},{"mz":211,"abundance":269},{"mz":212,"abundance":218},{"mz":213,"abundance":312},{"mz":214,"abundance":174},{"mz":215,"abundance":174},{"mz":216,"abundance":174},{"mz":218,"abundance":196},{"mz":221,"abundance":218,"label":"221.0"},{"mz":222,"abundance":163},{"mz":223,"abundance":163},{"mz":225,"abundance":203},{"mz":227,"abundance":225},{"mz":229,"abundance":163},{"mz":231,"abundance":153},{"mz":233.1,"abundance":327,"label":"233.1"},{"mz":239,"abundance":269},{"mz":241.3,"abundance":312},{"mz":242.4,"abundance":153},{"mz":243,"abundance":153,"label":"242.9"},{"mz":251.3,"abundance":218},{"mz":253,"abundance":185},{"mz":255.1,"abundance":291,"label":"255.1"},{"mz":256.4,"abundance":163},{"mz":257.3,"abundance":236},{"mz":258.4,"abundance":236},{"mz":261.5,"abundance":174},{"mz":263.3,"abundance":207},{"mz":264.4,"abundance":218},{"mz":265.4,"abundance":291},{"mz":266.3,"abundance":174},{"mz":267.3,"abundance":247},{"mz":269.4,"abundance":356,"label":"269.1"},{"mz":270.5,"abundance":196},{"mz":271.4,"abundance":196},{"mz":279.4,"abundance":174},{"mz":280.5,"abundance":367},{"mz":281.1,"abundance":995,"label":"281.1"},{"mz":282.3,"abundance":356},{"mz":283.4,"abundance":356},{"mz":284.5,"abundance":280},{"mz":285.2,"abundance":345},{"mz":286.3,"abundance":163},{"mz":287.4,"abundance":389},{"mz":293.3,"abundance":163},{"mz":295.4,"abundance":153},{"mz":297.3,"abundance":196},{"mz":299.4,"abundance":429,"label":"299.0"},{"mz":300.3,"abundance":174},{"mz":301.4,"abundance":312},{"mz":302.4,"abundance":163},{"mz":313.4,"abundance":218},{"mz":314.4,"abundance":207},{"mz":315.3,"abundance":534,"label":"315.1"},{"mz":316.3,"abundance":389},{"mz":326.5,"abundance":163},{"mz":327.3,"abundance":153},{"mz":328.4,"abundance":207},{"mz":329.4,"abundance":269},{"mz":330.5,"abundance":1769,"label":"330.1"},{"mz":331.5,"abundance":534},{"mz":332.6,"abundance":218},{"mz":337.2,"abundance":225},{"mz":344.4,"abundance":258},{"mz":345.2,"abundance":258},{"mz":346.3,"abundance":356},{"mz":347.4,"abundance":258},{"mz":348.3,"abundance":411,"label":"348.0"},{"mz":352.3,"abundance":258},{"mz":353.5,"abundance":247},{"mz":355.3,"abundance":312},{"mz":357.3,"abundance":196},{"mz":358.4,"abundance":643,"label":"358.1"},{"mz":359.4,"abundance":196},{"mz":361.5,"abundance":389},{"mz":368.4,"abundance":302,"label":"368.1"},{"mz":374.4,"abundance":196},{"mz":389.6,"abundance":222,"label":"389.1"},{"mz":399.4,"abundance":269},{"mz":400.6,"abundance":291,"label":"400.2"},{"mz":414.6,"abundance":2696,"label":"414.2"},{"mz":415.5,"abundance":654},{"mz":432.7,"abundance":2772,"label":"432.2"},{"mz":433.6,"abundance":538},{"mz":434.6,"abundance":218}],
"b_bonds":[{"sx":972,"sy":512,"sx2":1030,"sy2":537,"kind":"bond"},{"sx":1030,"sy":537,"sx2":1045,"sy2":638,"kind":"bond"},{"sx":1045,"sy":638,"sx2":1003,"sy2":713,"kind":"bond"},{"sx":1003,"sy":713,"sx2":945,"sy2":690,"kind":"bond"},{"sx":945,"sy":690,"sx2":932,"sy2":585,"kind":"bond"},{"sx":932,"sy":585,"sx2":972,"sy2":512,"kind":"bond"},{"sx":976,"sy":527,"sx2":1018,"sy2":545,"kind":"bond"},{"sx":1030,"sy":640,"sx2":995,"sy2":702,"kind":"bond"},{"sx":947,"sy":600,"sx2":957,"sy2":680,"kind":"bond"},{"sx":972,"sy":512,"sx2":962,"sy2":440,"kind":"bond"},{"sx":932,"sy":585,"sx2":890,"sy2":568,"kind":"bond"},{"sx":945,"sy":690,"sx2":915,"sy2":740,"kind":"bond"},{"sx":1045,"sy":638,"sx2":1125,"sy2":638,"kind":"bond"},{"sx":1125,"sy":638,"sx2":1167,"sy2":713,"kind":"bond"},{"sx":1167,"sy":713,"sx2":1167,"sy2":870,"kind":"bond"},{"sx":1167,"sy":870,"sx2":1127,"sy2":945,"kind":"bond"},{"sx":1127,"sy":945,"sx2":1045,"sy2":945,"kind":"bond"},{"sx":1003,"sy":713,"sx2":1003,"sy2":870,"kind":"bond"},{"sx":1003,"sy":870,"sx2":945,"sy2":895,"kind":"bond"},{"sx":945,"sy":895,"sx2":932,"sy2":1000,"kind":"bond"},{"sx":932,"sy":1000,"sx2":972,"sy2":1075,"kind":"bond"},{"sx":972,"sy":1075,"sx2":1030,"sy2":1040,"kind":"bond"},{"sx":1030,"sy":1040,"sx2":1045,"sy2":945,"kind":"bond"},{"sx":1045,"sy":945,"sx2":1003,"sy2":870,"kind":"bond"},{"sx":957,"sy":905,"sx2":947,"sy2":985,"kind":"bond"},{"sx":978,"sy":1060,"sx2":1020,"sy2":1037,"kind":"bond"},{"sx":1030,"sy":945,"sx2":995,"sy2":885,"kind":"bond"},{"sx":945,"sy":895,"sx2":915,"sy2":845,"kind":"bond"},{"sx":932,"sy":1000,"sx2":890,"sy2":1017,"kind":"bond"},{"sx":972,"sy":1075,"sx2":962,"sy2":1150,"kind":"bond"},{"sx":1167,"sy":713,"sx2":1213,"sy2":680,"kind":"hash"},{"sx":1167,"sy":870,"sx2":1213,"sy2":903,"kind":"hash"}],
"b_atoms":[{"sx":924,"sy":415,"text":"H₃CO"},{"sx":840,"sy":565,"text":"H₃CO"},{"sx":870,"sy":760,"text":"H₃CO"},{"sx":870,"sy":832,"text":"H₃CO"},{"sx":840,"sy":1030,"text":"H₃CO"},{"sx":924,"sy":1180,"text":"H₃CO"},{"sx":1245,"sy":683,"text":"CH₃"},{"sx":1245,"sy":915,"text":"CH₃"}],
"c_bonds":[{"sx":977,"sy":372,"sx2":1043,"sy2":372,"kind":"bond"},{"sx":1043,"sy":372,"sx2":1075,"sy2":458,"kind":"bond"},{"sx":1075,"sy":458,"sx2":1043,"sy2":545,"kind":"bond"},{"sx":1043,"sy":545,"sx2":977,"sy2":545,"kind":"bond"},{"sx":977,"sy":545,"sx2":947,"sy2":458,"kind":"bond"},{"sx":947,"sy":458,"sx2":977,"sy2":372,"kind":"bond"},{"sx":985,"sy":385,"sx2":1036,"sy2":385,"kind":"bond"},{"sx":1065,"sy":458,"sx2":1037,"sy2":530,"kind":"bond"},{"sx":985,"sy":530,"sx2":958,"sy2":458,"kind":"bond"},{"sx":977,"sy":372,"sx2":955,"sy2":312,"kind":"bond"},{"sx":965,"sy":245,"sx2":978,"sy2":203,"kind":"bond"},{"sx":1043,"sy":372,"sx2":1058,"sy2":320,"kind":"bond"},{"sx":1092,"sy":287,"sx2":1138,"sy2":287,"kind":"bond"},{"sx":947,"sy":458,"sx2":905,"sy2":430,"kind":"bond"},{"sx":882,"sy":380,"sx2":874,"sy2":327,"kind":"bond"},{"sx":878,"sy":565,"sx2":933,"sy2":615,"kind":"bond"},{"sx":933,"sy":615,"sx2":933,"sy2":712,"kind":"bond"},{"sx":933,"sy":712,"sx2":878,"sy2":763,"kind":"bond"},{"sx":878,"sy":763,"sx2":822,"sy2":712,"kind":"bond"},{"sx":822,"sy":712,"sx2":822,"sy2":615,"kind":"bond"},{"sx":822,"sy":615,"sx2":878,"sy2":565,"kind":"bond"},{"sx":880,"sy":580,"sx2":922,"sy2":618,"kind":"bond"},{"sx":923,"sy":705,"sx2":880,"sy2":745,"kind":"bond"},{"sx":834,"sy":625,"sx2":834,"sy2":700,"kind":"bond"},{"sx":977,"sy":545,"sx2":933,"sy2":615,"kind":"bond"},{"sx":878,"sy":565,"sx2":864,"sy2":510,"kind":"bond"},{"sx":835,"sy":463,"sx2":793,"sy2":452,"kind":"bond"},{"sx":822,"sy":615,"sx2":785,"sy2":590,"kind":"bond"},{"sx":745,"sy":580,"sx2":712,"sy2":610,"kind":"bond"},{"sx":822,"sy":712,"sx2":785,"sy2":738,"kind":"bond"},{"sx":745,"sy":740,"sx2":712,"sy2":712,"kind":"bond"},{"sx":1043,"sy":545,"sx2":1088,"sy2":612,"kind":"bond"},{"sx":1088,"sy":612,"sx2":1088,"sy2":712,"kind":"bond"},{"sx":1088,"sy":712,"sx2":1043,"sy2":782,"kind":"bond"},{"sx":1043,"sy":782,"sx2":977,"sy2":782,"kind":"bond"},{"sx":977,"sy":782,"sx2":933,"sy2":712,"kind":"bond"},{"sx":1088,"sy":712,"sx2":1125,"sy2":790,"kind":"wedge"},{"sx":1043,"sy":782,"sx2":1065,"sy2":873,"kind":"wedge"},{"sx":1088,"sy":712,"sx2":1130,"sy2":690,"kind":"hash"}],
"c_atoms":[{"sx":945,"sy":288,"text":"O"},{"sx":1074,"sy":288,"text":"O"},{"sx":885,"sy":423,"text":"O"},{"sx":855,"sy":472,"text":"O"},{"sx":765,"sy":565,"text":"O"},{"sx":765,"sy":760,"text":"O"},{"sx":1167,"sy":700,"text":"OH"}]
}}
